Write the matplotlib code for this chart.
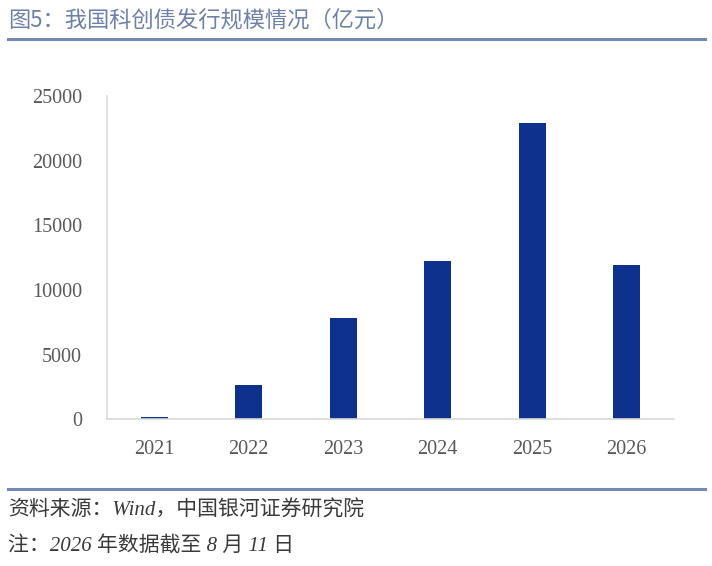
import matplotlib
matplotlib.use("Agg")
import matplotlib.pyplot as plt
from matplotlib.lines import Line2D

plt.rcParams["font.family"] = ["Noto Sans CJK SC", "DejaVu Sans"]

years = ["2021", "2022", "2023", "2024", "2025", "2026"]
issuance = [150, 2650, 7810, 12260, 22880, 11900]
y_ticks = [0, 5000, 10000, 15000, 20000, 25000]

title = "图5：我国科创债发行规模情况（亿元）"
source = "资料来源：Wind，中国银河证券研究院"
note = "注：2026 年数据截至 8 月 11 日"

bar_color = "#0d318c"
head_color = "#6d80a8"
rule_color = "#7189b3"
tick_color = "#595959"
serif_mix = ["Liberation Serif", "Noto Sans CJK SC"]

fig = plt.figure(figsize=(7.12, 5.66), dpi=100)
ax = fig.add_axes([0.1503, 0.2592, 0.7963, 0.5712])

x = range(len(years))
ax.bar(x, issuance, width=0.29, color=bar_color)
ax.set_xlim(-0.5, len(years) - 0.5)
ax.set_ylim(0, 25000)
ax.set_xticks(list(x))
ax.set_xticklabels(years)
ax.set_yticks(y_ticks)
ax.set_yticklabels([str(v) for v in y_ticks])

for lbl in ax.get_xticklabels() + ax.get_yticklabels():
    lbl.set_family(serif_mix)
    lbl.set_fontsize(14.5)
    lbl.set_color(tick_color)
ax.tick_params(length=0)
ax.tick_params(axis="x", pad=15)
ax.tick_params(axis="y", pad=18)

for side in ["top", "right"]:
    ax.spines[side].set_visible(False)
for side in ["left", "bottom"]:
    ax.spines[side].set_color("#d9d9d9")
    ax.spines[side].set_linewidth(1.2)

# header and footer
fig.text(8 / 712, 1 - 20 / 566, title, fontsize=16, color=head_color,
         va="center", ha="left")
fig.add_artist(Line2D([8 / 712, 705 / 712], [1 - 38.5 / 566] * 2,
                      color=rule_color, linewidth=2.2))
fig.add_artist(Line2D([8 / 712, 705 / 712], [1 - 489 / 566] * 2,
                      color=rule_color, linewidth=2.2))
fig.text(8 / 712, 1 - 511 / 566, source, fontsize=15, color="#3a3a3a",
         va="center", ha="left", family=serif_mix, style="italic")
fig.text(8 / 712, 1 - 547 / 566, note, fontsize=15, color="#3a3a3a",
         va="center", ha="left", family=serif_mix, style="italic")

fig.savefig("out.png", dpi=100)
plt.close(fig)
